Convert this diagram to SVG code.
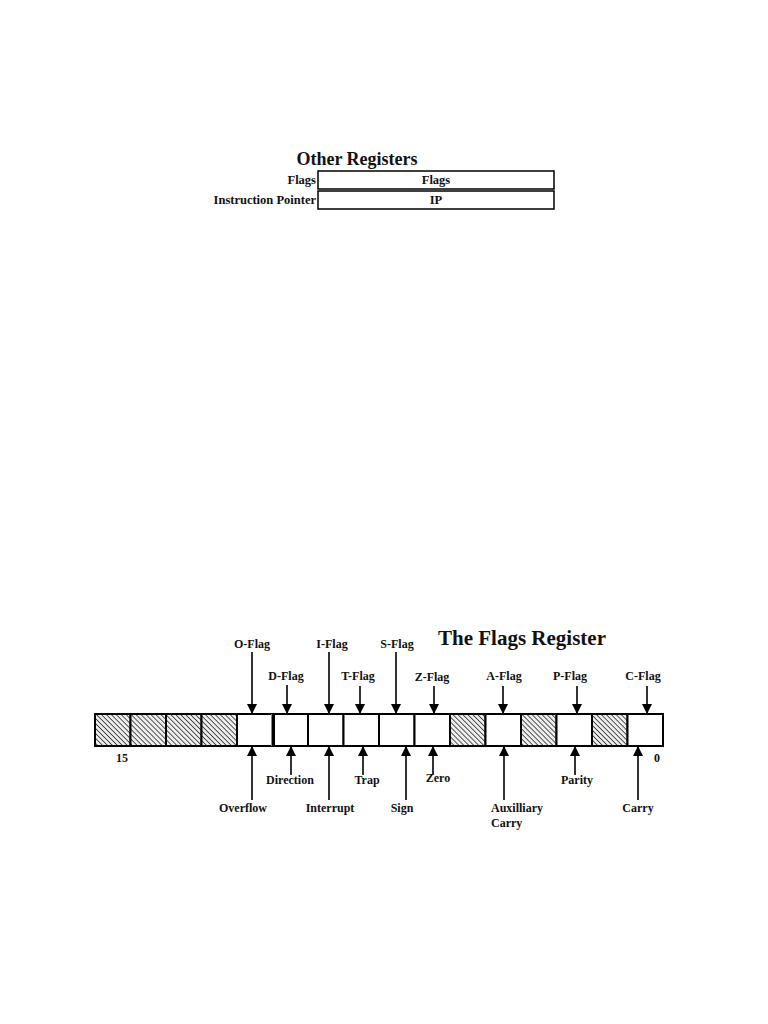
<svg xmlns="http://www.w3.org/2000/svg" width="768" height="1024" viewBox="0 0 768 1024">
<defs>
<style>
text{font-family:"Liberation Serif","Times New Roman",serif;font-weight:bold;fill:#111}
.lbl{font-size:12px;text-anchor:middle}
.box{fill:#fff;stroke:#000;stroke-width:1.5}
.cell{fill:#fff;stroke:#000;stroke-width:2}
.hat{fill:url(#hatch);stroke:#000;stroke-width:2}
.arr{stroke:#000;stroke-width:1.6;fill:none;marker-end:url(#ah)}
</style>
<pattern id="hatch" patternUnits="userSpaceOnUse" width="3.5" height="3.5" patternTransform="rotate(-45)">
<rect width="3.5" height="3.5" fill="#eee"/>
<line x1="0" y1="0" x2="0" y2="3.5" stroke="#111" stroke-width="1.4"/>
</pattern>
<marker id="ah" viewBox="0 0 10 10" refX="10" refY="5" markerUnits="userSpaceOnUse" markerWidth="13" markerHeight="10" orient="auto">
<path d="M0,0 L10,5 L0,10 z" fill="#000"/>
</marker>
</defs>
<rect width="768" height="1024" fill="#fff"/>

<g id="other-registers">
<text x="357" y="165" font-size="18" text-anchor="middle">Other Registers</text>
<text x="316" y="184" font-size="12.5" text-anchor="end">Flags</text>
<text x="316" y="204" font-size="12.5" text-anchor="end">Instruction Pointer</text>
</g>
<g id="flags-box">
<rect class="box" x="318" y="171" width="236" height="18"/>
<text x="436" y="184" font-size="12.5" text-anchor="middle">Flags</text>
</g>
<g id="ip-box">
<rect class="box" x="318" y="191" width="236" height="18"/>
<text x="436" y="204" font-size="12.5" text-anchor="middle">IP</text>
</g>

<text id="title" x="522" y="645" font-size="21" text-anchor="middle">The Flags Register</text>

<g id="register">
<rect class="hat" x="95" y="714" width="35.5" height="32"/>
<rect class="hat" x="130.5" y="714" width="35.5" height="32"/>
<rect class="hat" x="166" y="714" width="35.5" height="32"/>
<rect class="hat" x="201.5" y="714" width="35.5" height="32"/>
<rect class="cell" x="237" y="714" width="35.5" height="32"/>
<rect class="cell" x="274" y="714" width="34" height="32"/>
<line x1="271.5" y1="714" x2="271.5" y2="746" stroke="#888" stroke-width="1"/>
<rect class="cell" x="308" y="714" width="35.5" height="32"/>
<rect class="cell" x="343.5" y="714" width="35.5" height="32"/>
<rect class="cell" x="379" y="714" width="35.5" height="32"/>
<rect class="cell" x="414.5" y="714" width="35.5" height="32"/>
<rect class="hat" x="450" y="714" width="35.5" height="32"/>
<rect class="cell" x="485.5" y="714" width="35.5" height="32"/>
<rect class="hat" x="521" y="714" width="35.5" height="32"/>
<rect class="cell" x="556.5" y="714" width="35.5" height="32"/>
<rect class="hat" x="592" y="714" width="35.5" height="32"/>
<rect class="cell" x="627.5" y="714" width="35.5" height="32"/>
<text x="122" y="762" font-size="12" text-anchor="middle">15</text>
<text x="657" y="762" font-size="12" text-anchor="middle">0</text>
</g>

<g id="connectors">
<line class="arr" x1="252" y1="652" x2="252" y2="714"/>
<line class="arr" x1="287" y1="685" x2="287" y2="714"/>
<line class="arr" x1="329" y1="652" x2="329" y2="714"/>
<line class="arr" x1="360" y1="686" x2="360" y2="714"/>
<line class="arr" x1="396" y1="652" x2="396" y2="714"/>
<line class="arr" x1="434" y1="686" x2="434" y2="714"/>
<line class="arr" x1="503" y1="686" x2="503" y2="714"/>
<line class="arr" x1="577" y1="686" x2="577" y2="714"/>
<line class="arr" x1="647" y1="686" x2="647" y2="714"/>
<line class="arr" x1="252" y1="800" x2="252" y2="746"/>
<line class="arr" x1="291" y1="775" x2="291" y2="746"/>
<line class="arr" x1="329" y1="800" x2="329" y2="746"/>
<line class="arr" x1="363" y1="775" x2="363" y2="746"/>
<line class="arr" x1="406" y1="800" x2="406" y2="746"/>
<line class="arr" x1="433" y1="775" x2="433" y2="746" stroke-width="2.4"/>
<line class="arr" x1="504" y1="800" x2="504" y2="746"/>
<line class="arr" x1="575" y1="775" x2="575" y2="746"/>
<line class="arr" x1="638" y1="800" x2="638" y2="746"/>
</g>

<g id="top-labels">
<text class="lbl" x="252" y="648">O-Flag</text>
<text class="lbl" x="286" y="680">D-Flag</text>
<text class="lbl" x="332" y="648">I-Flag</text>
<text class="lbl" x="358" y="680">T-Flag</text>
<text class="lbl" x="397" y="648">S-Flag</text>
<text class="lbl" x="432" y="681">Z-Flag</text>
<text class="lbl" x="504" y="680">A-Flag</text>
<text class="lbl" x="570" y="680">P-Flag</text>
<text class="lbl" x="643" y="680">C-Flag</text>
</g>

<g id="bottom-labels">
<text class="lbl" x="243" y="812">Overflow</text>
<text class="lbl" x="290" y="784">Direction</text>
<text class="lbl" x="330" y="812">Interrupt</text>
<text class="lbl" x="367" y="784">Trap</text>
<text class="lbl" x="402" y="812">Sign</text>
<text class="lbl" x="438" y="782">Zero</text>
<text x="491" y="812" font-size="12">Auxilliary</text>
<text x="491" y="827" font-size="12">Carry</text>
<text class="lbl" x="577" y="784">Parity</text>
<text class="lbl" x="638" y="812">Carry</text>
</g>
</svg>
